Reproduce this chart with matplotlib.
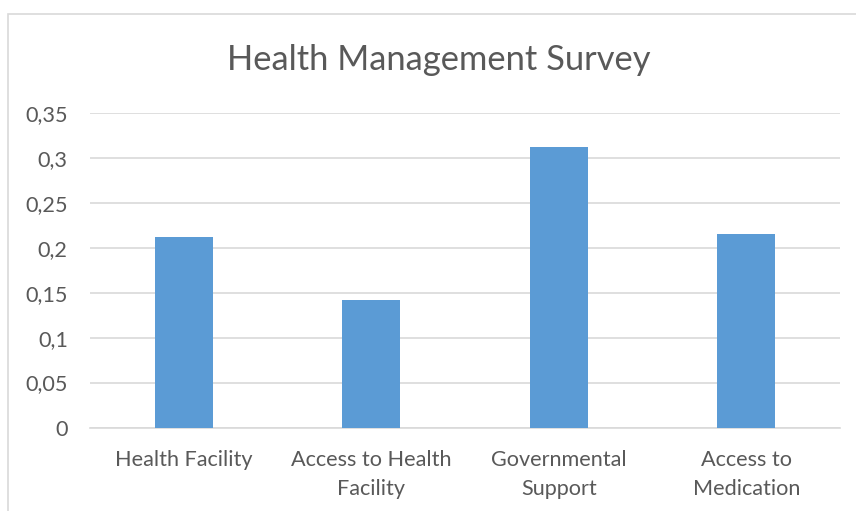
import matplotlib.pyplot as plt
from matplotlib.patches import Rectangle
from matplotlib.ticker import FuncFormatter

# survey scores
categories = ["Health Facility", "Access to Health\nFacility", "Governmental\nSupport", "Access to\nMedication"]
values = [0.212, 0.142, 0.312, 0.215]
yticks = [0, 0.05, 0.1, 0.15, 0.2, 0.25, 0.3, 0.35]

plt.rcParams['font.family'] = ['Lato', 'DejaVu Sans']
txt = '#595959'
grid = '#D9D9D9'

fig = plt.figure(figsize=(8.56, 5.11), dpi=100)
ax = fig.add_axes([90/856, 1 - 427.5/511, 750/856, (427.5 - 113)/511])

# chart frame (only left and top edges visible in the original crop)
fig.patches.append(Rectangle((8/856, -0.1), 1.2, 1.1 - 14/511, transform=fig.transFigure,
                             fill=False, edgecolor=grid, linewidth=1.2))

x = range(len(categories))
ax.bar(x, values, width=0.31, color='#5B9BD5', zorder=3)

ax.set_xlim(-0.5, len(categories) - 0.5)
ax.set_ylim(0, 0.35)
ax.set_yticks(yticks)
ax.yaxis.set_major_formatter(FuncFormatter(lambda v, p: ('%g' % round(v, 2)).replace('.', ',')))
ax.set_xticks(list(x))
ax.set_xticklabels(categories, linespacing=1.6)

ax.grid(axis='y', color=grid, linewidth=1.2, zorder=0)
for s in ['top', 'right', 'left']:
    ax.spines[s].set_visible(False)
ax.spines['bottom'].set_color(grid)
ax.spines['bottom'].set_linewidth(1.2)
ax.tick_params(axis='both', length=0, labelsize=15.6, labelcolor=txt)
ax.tick_params(axis='y', pad=16)
ax.tick_params(axis='x', pad=16)

fig.text(439/856, 1 - 60/511, "Health Management Survey", ha='center', va='center',
         fontsize=24.8, color=txt)

fig.savefig('out.png', dpi=100)
